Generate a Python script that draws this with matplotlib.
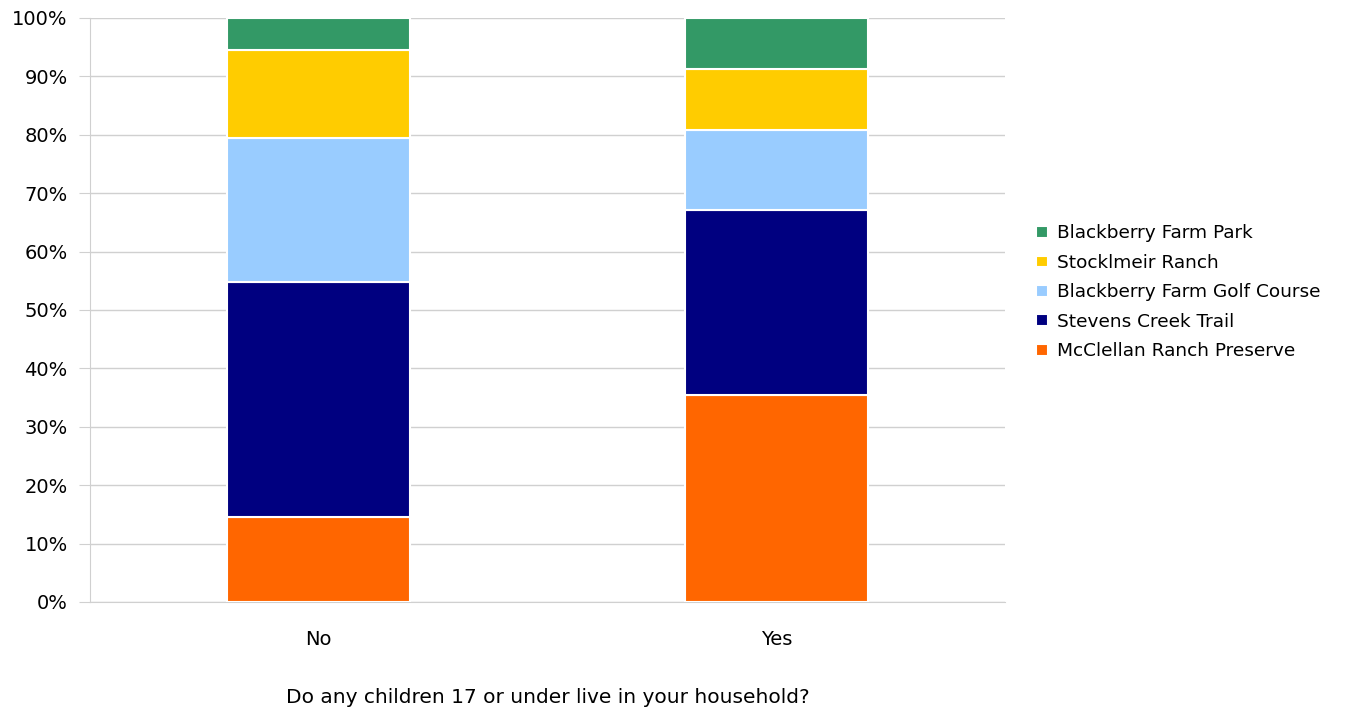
import numpy as np
import matplotlib.pyplot as plt
from matplotlib.ticker import PercentFormatter

categories = ['No', 'Yes']
series = ['McClellan Ranch Preserve', 'Stevens Creek Trail', 'Blackberry Farm Golf Course',
          'Stocklmeir Ranch', 'Blackberry Farm Park']
mcclellan = [14.6, 35.4]
stevens = [40.2, 31.8]
golf = [24.7, 13.7]
stocklmeir = [15.1, 10.4]
blackberry = [5.4, 8.7]
colors = ['#FF6600', '#000080', '#99CCFF', '#FFCC00', '#339966']

plt.rcParams['font.family'] = ['DejaVu Sans']

fig = plt.figure(figsize=(13.49, 7.13), dpi=100)
ax = fig.add_axes([0.0667, 0.1557, 0.745 - 0.0667, 0.9748 - 0.1557])

x = np.arange(len(categories))
bottom = np.zeros(len(categories))
handles = []
for name, vals, c in zip(series, [mcclellan, stevens, golf, stocklmeir, blackberry], colors):
    b = ax.bar(x, vals, 0.4, bottom=bottom, color=c, edgecolor='white', linewidth=1.5,
               label=name, zorder=3)
    handles.append(b)
    bottom += np.array(vals)

ax.set_xlim(-0.5, 1.5)
ax.set_ylim(0, 100)
ax.set_yticks(np.arange(0, 101, 10))
ax.yaxis.set_major_formatter(PercentFormatter(decimals=0))
ax.set_xticks(x)
ax.set_xticklabels(categories)
ax.grid(axis='y', color='#d0d0d0', linewidth=1, zorder=0)
for s in ['top', 'right']:
    ax.spines[s].set_visible(False)
ax.spines['left'].set_color('#d0d0d0')
ax.spines['bottom'].set_color('#d0d0d0')
ax.tick_params(axis='y', length=8, color='#d0d0d0', labelsize=14, pad=8)
ax.tick_params(axis='x', length=0, labelsize=14, pad=20)
ax.set_xlabel('Do any children 17 or under live in your household?', fontsize=14.5, labelpad=28)

fig.legend(handles[::-1], series[::-1], loc='center left', bbox_to_anchor=(0.756, 0.59),
           frameon=False, fontsize=13.3, handlelength=0.6, handleheight=0.6,
           handletextpad=0.5, labelspacing=0.62)

fig.savefig('out.png', dpi=100)
